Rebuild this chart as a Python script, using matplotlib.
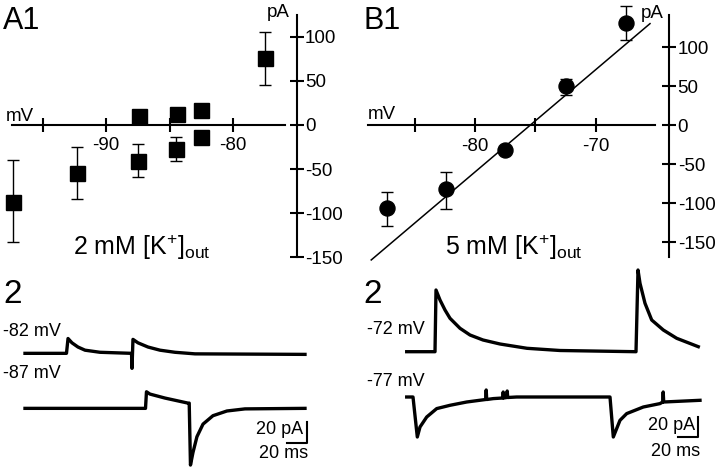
import matplotlib.pyplot as plt

plt.rcParams['font.family'] = ['Liberation Sans', 'DejaVu Sans']
plt.rcParams['mathtext.fontset'] = 'custom'
plt.rcParams['mathtext.rm'] = 'Liberation Sans'
plt.rcParams['mathtext.it'] = 'Liberation Sans'

# A1: 2 mM [K+]out, corriente vs voltaje
mv_a = [-97.3, -92.3, -87.4, -87.5, -84.4, -84.5, -82.5, -82.5, -77.5]
pa_a = [-87, -54, 10, -40.5, 12, -27, 17, -14, 76]
err_up_a = [47, 29, 0, 19, 0, 13, 0, 0, 30]
err_dn_a = [46, 30, 0, 18.5, 0, 13.5, 0, 0, 30]

# B1: 5 mM [K+]out
mv_b = [-87.3, -82.4, -77.5, -72.5, -67.5]
pa_b = [-107, -82, -32, 50, 131]
err_up_b = [21.5, 22, 0, 9, 22]
err_dn_b = [22.5, 25.5, 0, 11.5, 22]
fit_mv = [-88.6, -65.5]
fit_pa = [-173, 130]

x_ticks_a = [-95, -90, -85, -80]
x_labels_a = ['', '-90', '', '-80']
x_ticks_b = [-85, -80, -75, -70]
x_labels_b = ['', '-80', '', '-70']
y_ticks = [-150, -100, -50, 0, 50, 100]
y_labels = ['-150', '-100', '-50', '0', '50', '100']

# A2: registros (ms, pA)
t_a82 = [0, 43.0, 44.6, 48.7, 54.9, 62.2, 77.7, 110.4, 110.9, 111.9, 117.1, 127.5, 139.9, 155.4, 176.2, 290.2]
i_a82 = [0, 0, 14.1, 10, 6, 3, 1, 0, -14.3, 13.3, 10, 6, 3, 1, -0.5, -1]
t_a87 = [0, 124.9, 125.9, 129.5, 145.1, 168.9, 170.2, 171.5, 174.1, 178.2, 184.5, 194.8, 209.3, 228, 290.2]
i_a87 = [0, 0, 15.8, 13.6, 9.8, 5, 5, -54, -42, -27, -15, -7, -2.5, -0.5, 0]

# B2: registros (ms, pA)
t_b72 = [0, 28.3, 29.3, 33.3, 38.3, 43.3, 53.3, 63.3, 76.3, 93.3, 120.3, 153.3, 229.3,
         231.3, 233.3, 238.3, 245, 256.6, 270, 291.6]
i_b72 = [0, 0, 61.7, 51.7, 41.7, 33.4, 23.4, 16.7, 11.7, 7.7, 3.4, 1.2, 0,
         81.7, 68.4, 48.4, 31.7, 21.7, 13.4, 5]
t_b77 = [0, 6.3, 10.6, 13.3, 20, 30, 43.3, 60, 79, 79.5, 80, 86.6, 96, 96.5, 97, 100, 100.5, 101, 110,
         203.3, 206.6, 213.3, 220, 236.6, 253.3, 256, 256.5, 257, 293.3]
i_b77 = [0, 0, -40, -30, -20, -11.6, -8.3, -5, -2.5, 7, -2.5, -1.6, -1, 5, -1, -0.5, 6, -0.5, 0,
         0, -40, -23.3, -16.6, -10, -6.6, -5, 5, -5, -3.3]

W, H = 720, 470
fig = plt.figure(figsize=(7.2, 4.7), dpi=100)


def px_axes(x0, y0, x1, y1):
    ax = fig.add_axes([x0 / W, 1 - y1 / H, (x1 - x0) / W, (y1 - y0) / H])
    ax.patch.set_visible(False)
    return ax


def iv_axes(ax, yx, xb, yb):
    ax.spines['left'].set_visible(False)
    ax.spines['top'].set_visible(False)
    ax.spines['bottom'].set_position(('data', 0))
    ax.spines['right'].set_position(('data', yx))
    ax.spines['bottom'].set_bounds(*xb)
    ax.spines['right'].set_bounds(*yb)
    for s in ('bottom', 'right'):
        ax.spines[s].set_linewidth(1.5)
    ax.yaxis.tick_right()
    ax.set_yticks(y_ticks)
    ax.set_yticklabels(y_labels)
    ax.tick_params(axis='both', direction='inout', length=10, width=1.5, labelsize=13.5)
    ax.tick_params(axis='y', pad=1)
    ax.tick_params(axis='x', pad=4)


# ---- A1
ax1 = px_axes(0, 0, 360, 280)
ax1.set_xlim(-98.35, -70.0)
ax1.set_ylim(-176.1, 142.0)
iv_axes(ax1, -75.0, (-97.4, -75.9), (-150, 125))
ax1.set_xticks(x_ticks_a)
ax1.set_xticklabels(x_labels_a)
ax1.errorbar(mv_a, pa_a, yerr=[err_dn_a, err_up_a], fmt='s', color='black', ms=10.8,
             elinewidth=1, capsize=4.5, capthick=1, clip_on=False, zorder=5)
ax1.text(-97.9, 4.5, 'mV', fontsize=13.5, ha='left', va='baseline')
ax1.text(-75.5, 122.7, 'pA', fontsize=13.5, ha='right', va='baseline')
ax1.text(-92.6, -147.7, r'2 mM [K$^{+}$]$_{\mathrm{out}}$', fontsize=18, ha='left', va='baseline')

# ---- B1
ax2 = px_axes(360, 0, 720, 280)
ax2.set_xlim(-89.53, -59.70)
ax2.set_ylim(-198.7, 160.3)
iv_axes(ax2, -63.9, (-88.9, -65.1), (-169, 141))
ax2.set_xticks(x_ticks_b)
ax2.set_xticklabels(x_labels_b)
ax2.plot(fit_mv, fit_pa, color='black', lw=1.1, clip_on=False)
ax2.errorbar(mv_b, pa_b, yerr=[err_dn_b, err_up_b], fmt='o', color='black', ms=10.8,
             elinewidth=1, capsize=4.5, capthick=1, clip_on=False, zorder=5)
ax2.text(-88.9, 7.7, 'mV', fontsize=13.5, ha='left', va='baseline')
ax2.text(-64.4, 137, 'pA', fontsize=13.5, ha='right', va='baseline')
ax2.text(-82.5, -166.7, r'5 mM [K$^{+}$]$_{\mathrm{out}}$', fontsize=18, ha='left', va='baseline')

# ---- A2
ax3 = px_axes(0, 250, 360, 470)
ax3.set_xlim(-25.9, 347.2)
ax3.set_ylim(-111.1, 98.4)
ax3.axis('off')
ax3.plot(t_a82, i_a82, color='black', lw=2.4)
ax3.plot(t_a87, [v - 52.4 for v in i_a87], color='black', lw=2.4)
ax3.text(-23, 20.6, '-82 mV', fontsize=13, ha='left', va='center')
ax3.text(-23, -19, '-87 mV', fontsize=13, ha='left', va='center')
ax3.plot([271.9, 291.9, 291.9], [-85.1, -85.1, -65.1], color='black', lw=1.5)
ax3.text(288, -73, '20 pA', fontsize=13, ha='right', va='center')
ax3.text(293, -95, '20 ms', fontsize=13, ha='right', va='center')

# ---- B2
ax4 = px_axes(360, 250, 720, 470)
ax4.set_xlim(-46.7, 313.3)
ax4.set_ylim(-118.3, 101.7)
ax4.axis('off')
ax4.plot(t_b72, i_b72, color='black', lw=2.4)
ax4.plot(t_b77, [v - 45.3 for v in i_b77], color='black', lw=2.4)
ax4.text(-40, 21.7, '-72 mV', fontsize=13, ha='left', va='center')
ax4.text(-40, -30, '-77 mV', fontsize=13, ha='left', va='center')
ax4.plot([271.6, 291.6, 291.6], [-85, -85, -65], color='black', lw=1.5)
ax4.text(288.3, -73.3, '20 pA', fontsize=13, ha='right', va='center')
ax4.text(293.3, -100, '20 ms', fontsize=13, ha='right', va='center')

# etiquetas de panel
fig.text(3 / W, 1 - 29 / H, 'A1', fontsize=22, ha='left', va='baseline')
fig.text(363 / W, 1 - 29 / H, 'B1', fontsize=22, ha='left', va='baseline')
fig.text(3 / W, 1 - 303 / H, '2', fontsize=24, ha='left', va='baseline')
fig.text(363 / W, 1 - 303 / H, '2', fontsize=24, ha='left', va='baseline')

fig.savefig('out.png', dpi=100)
